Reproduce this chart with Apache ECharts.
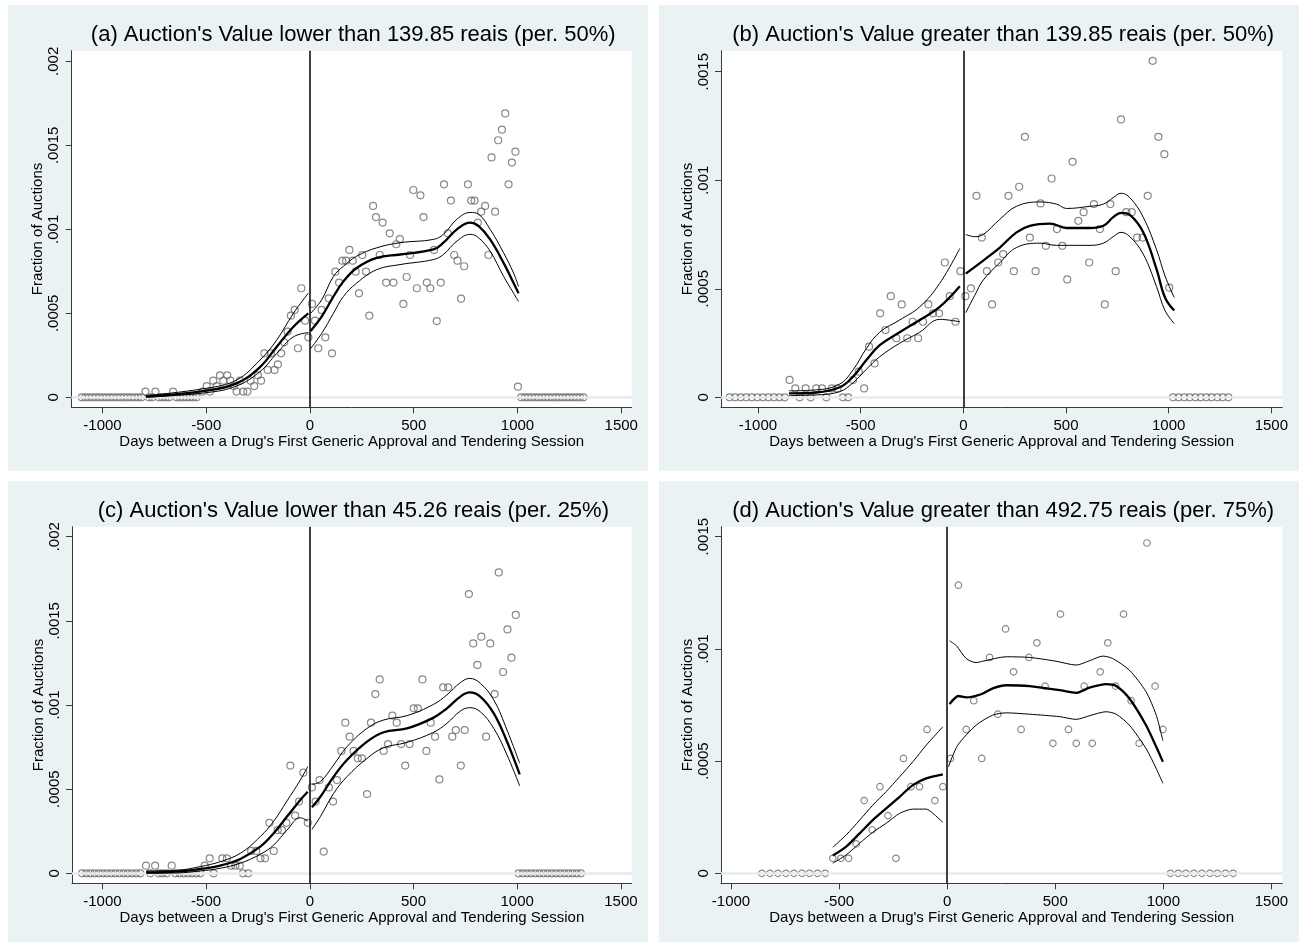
<!DOCTYPE html>
<html><head><meta charset="utf-8">
<script src="https://cdn.jsdelivr.net/npm/echarts@6/dist/echarts.min.js"></script>
<style>html,body{margin:0;padding:0;background:#fff}#c{width:1299px;height:942px}</style>
</head><body><div id="c"></div>
<script>
// ---------- titles & tick labels ----------
const titles = [
  "(a) Auction's Value lower than 139.85 reais (per. 50%)",
  "(b) Auction's Value greater than 139.85 reais (per. 50%)",
  "(c) Auction's Value lower than 45.26 reais (per. 25%)",
  "(d) Auction's Value greater than 492.75 reais (per. 75%)"
];
const xName = "Days between a Drug's First Generic Approval and Tendering Session";
const yName = "Fraction of Auctions";
const xTicks = [-1000, -500, 0, 500, 1000, 1500];
const xTickLabels = ["-1000", "-500", "0", "500", "1000", "1500"];
const yTicks20 = [0, 0.0005, 0.001, 0.0015, 0.002];
const yTickLabels20 = ["0", ".0005", ".001", ".0015", ".002"];
const yTicks15 = [0, 0.0005, 0.001, 0.0015];
const yTickLabels15 = ["0", ".0005", ".001", ".0015"];

// ---------- panel (a) ----------
const aScatter = [
[-1100,0],[-1083,0],[-1066,0],[-1049,0],[-1032,0],[-1015,0],[-998,0],[-981,0],[-964,0],[-947,0],[-930,0],[-913,0],[-896,0],[-879,0],[-862,0],[-845,0],[-828,0],[-812,0],
[-793,0.000034],[-776,0],[-760,0],[-745,0.000034],[-728,0],[-712,0],[-695,0],[-679,0],[-660,0.000034],[-643,0],[-627,0],[-611,0],[-595,0],[-579,0],[-563,0],[-547,0],
[-518,0.000034],[-498,0.000067],[-482,0.000034],[-466,0.000099],[-450,0.000067],[-434,0.000131],[-418,0.000099],[-399,0.000131],[-384,0.000099],[-367,0.000067],[-354,0.000034],[-338,0.000099],[-322,0.000034],[-302,0.000034],[-286,0.000099],[-269,0.000067],[-251,0.000131],[-236,0.000099],[-220,0.000262],[-204,0.000163],[-188,0.000262],[-171,0.000163],[-155,0.000196],[-139,0.000262],[-124,0.000327],[-108,0.000391],[-92,0.000486],[-74,0.00052],[-58,0.000292],[-42,0.000649],[-24,0.000456],[-8,0.000357],
[10,0.000556],[24,0.000456],[40,0.000292],[56,0.00052],[74,0.000357],[90,0.000589],[106,0.000262],[122,0.000748],[140,0.000683],[156,0.000813],[174,0.000813],[190,0.000877],[206,0.000813],[220,0.000748],[236,0.000619],[252,0.000847],[270,0.000748],[286,0.000486],[304,0.001139],[318,0.001073],[336,0.000847],[350,0.00104],[367,0.000683],[384,0.000976],[402,0.000683],[416,0.000911],[433,0.000942],[450,0.000556],[466,0.000716],[482,0.000847],[498,0.001234],[515,0.000649],[532,0.001202],[547,0.001073],[563,0.000683],[580,0.000649],[598,0.000877],[611,0.000454],[630,0.000683],[646,0.001268],[664,0.000976],[679,0.001171],[695,0.000847],[711,0.000813],[728,0.000587],[743,0.00078],[761,0.001268],[777,0.001171],[793,0.001171],[809,0.00104],[825,0.001105],[844,0.001139],[860,0.000847],[875,0.001428],[892,0.001105],[907,0.00153],[925,0.001593],[941,0.00169],[957,0.001268],[973,0.001397],[990,0.001462],[1002,0.0000635],
[1018,0],[1035,0],[1051,0],[1068,0],[1085,0],[1101,0],[1118,0],[1135,0],[1151,0],[1168,0],[1185,0],[1201,0],[1218,0],[1235,0],[1251,0],[1268,0],[1285,0],[1301,0],[1318,0]
];
const aNegMid = [[-791,0.000004],[-498,0.00004],[-354,0.000083],[-241,0.00018],[-161,0.0003],[-80,0.00042],[-8,0.0005]];
const aNegUp  = [[-791,0.00001],[-498,0.000054],[-354,0.000103],[-241,0.000222],[-161,0.00034],[-80,0.0005],[-8,0.00062]];
const aNegLo  = [[-791,0],[-498,0.000028],[-354,0.000067],[-241,0.000153],[-161,0.00026],[-80,0.00036],[-8,0.000385]];
const aPosMid = [[3,0.000395],[56,0.00048],[113,0.0006],[161,0.00069],[225,0.00077],[322,0.00083],[434,0.00085],[595,0.00088],[643,0.00092],[708,0.001],[772,0.00104],[812,0.00102],[868,0.00094],[933,0.0008],[981,0.00068],[1005,0.00062]];
const aPosUp  = [[3,0.0005],[56,0.00058],[113,0.00072],[161,0.00078],[225,0.00084],[322,0.00089],[434,0.00092],[595,0.00094],[643,0.00097],[708,0.00106],[772,0.0011],[812,0.00109],[868,0.001],[933,0.00086],[981,0.00074],[1005,0.00066]];
const aPosLo  = [[3,0.00029],[56,0.00038],[113,0.0005],[161,0.0006],[225,0.00068],[322,0.00076],[434,0.00079],[595,0.00082],[643,0.00085],[708,0.00093],[772,0.00097],[812,0.00095],[868,0.00087],[933,0.00072],[981,0.00062],[1005,0.00057]];

// ---------- panel (b) ----------
const bScatter = [
[-1138,0],[-1111,0],[-1084,0],[-1057,0],[-1030,0],[-1003,0],[-976,0],[-949,0],[-922,0],[-896,0],[-870,0],
[-846,0.00008],[-818,0.000041],[-797,0],[-768,0.000041],[-743,0],[-716,0.000041],[-688,0.000041],[-667,0],[-640,0.000041],[-613,0.000041],[-586,0],[-561,0],[-537,0.00008],[-509,0.000118],[-483,0.000041],[-459,0.000233],[-432,0.000156],[-405,0.000387],[-379,0.00031],[-353,0.000466],[-326,0.000272],[-300,0.000428],[-273,0.000272],[-247,0.000348],[-220,0.000272],[-196,0.000348],[-170,0.000428],[-147,0.000387],[-118,0.000387],[-90,0.000621],[-66,0.000466],[-38,0.000348],[-14,0.000581],
[10,0.000466],[37,0.000502],[64,0.000928],[90,0.000736],[115,0.000581],[140,0.000428],[170,0.000621],[194,0.00066],[220,0.000928],[246,0.000581],[272,0.00097],[300,0.0012],[324,0.000736],[352,0.000581],[376,0.000893],[402,0.000698],[430,0.001008],[456,0.000775],[482,0.000698],[506,0.000543],[532,0.001085],[560,0.000813],[586,0.000853],[613,0.000621],[636,0.00089],[665,0.000775],[689,0.000428],[716,0.00089],[742,0.000581],[768,0.00128],[794,0.000853],[820,0.000853],[846,0.000736],[873,0.000736],[898,0.000928],[922,0.00155],[950,0.0012],[979,0.00112],[1003,0.000505],
[1022,0],[1048,0],[1076,0],[1102,0],[1130,0],[1156,0],[1183,0],[1209,0],[1237,0],[1263,0],[1291,0]
];
const bNegMid = [[-849,0.000018],[-716,0.000022],[-602,0.000046],[-537,0.000095],[-472,0.000172],[-407,0.00024],[-310,0.0003],[-212,0.000356],[-115,0.000417],[-17,0.000512]];
const bNegUp  = [[-849,0.00003],[-716,0.000034],[-602,0.000061],[-537,0.000126],[-472,0.000225],[-407,0.0003],[-310,0.000356],[-212,0.000417],[-115,0.000525],[-17,0.000686]];
const bNegLo  = [[-849,0.000008],[-716,0.000011],[-602,0.000026],[-537,0.000067],[-472,0.000129],[-407,0.000187],[-310,0.000249],[-212,0.0003],[-115,0.000359],[-17,0.000348]];
const bPosMid = [[12,0.00057],[97,0.00063],[178,0.00069],[259,0.00076],[324,0.00079],[422,0.0008],[503,0.00078],[617,0.00078],[682,0.00079],[730,0.00083],[768,0.00085],[811,0.00084],[876,0.00076],[941,0.00059],[982,0.00046],[1027,0.0004]];
const bPosUp  = [[12,0.00075],[56,0.00074],[97,0.00075],[178,0.00082],[259,0.00088],[373,0.0009],[454,0.00089],[503,0.00087],[617,0.00088],[682,0.00089],[730,0.00092],[768,0.00094],[811,0.00092],[876,0.00083],[941,0.00068],[982,0.00056],[1027,0.00046]];
const bPosLo  = [[12,0.00039],[56,0.00047],[97,0.00054],[178,0.00062],[259,0.00069],[373,0.00071],[454,0.0007],[617,0.0007],[682,0.00071],[730,0.00074],[768,0.00076],[811,0.00074],[876,0.00066],[941,0.00051],[982,0.0004],[1027,0.00034]];

// ---------- panel (c) ----------
const cScatter = [
[-1098,0],[-1078,0],[-1058,0],[-1038,0],[-1018,0],[-998,0],[-978,0],[-958,0],[-938,0],[-918,0],[-898,0],[-878,0],[-858,0],[-838,0],[-818,0],
[-790,0.0000455],[-769,0],[-746,0.0000455],[-728,0],[-710,0],[-690,0],[-666,0.0000455],[-648,0],[-628,0],[-608,0],[-588,0],[-568,0],[-548,0],[-528,0],[-507,0.0000455],[-483,0.000089],[-464,0],[-422,0.000089],[-400,0.000089],[-380,0.0000455],[-359,0.0000455],[-338,0.0000455],[-322,0],[-297,0],[-283,0.000133],[-258,0.000133],[-238,0.000089],[-216,0.000089],[-195,0.0003],[-174,0.000133],[-155,0.000257],[-134,0.000257],[-113,0.0003],[-94,0.00064],[-71,0.000343],[-52,0.000426],[-31,0.000598],[-10,0.0003],
[10,0.00051],[28,0.000426],[47,0.000554],[67,0.000129],[92,0.00051],[112,0.000426],[131,0.000554],[152,0.000727],[171,0.000895],[192,0.000812],[211,0.000727],[231,0.000683],[251,0.000683],[276,0.000471],[295,0.000895],[316,0.001065],[337,0.001152],[356,0.000727],[377,0.000768],[398,0.000937],[419,0.000895],[440,0.000768],[460,0.00064],[481,0.000768],[501,0.00098],[521,0.00098],[543,0.001152],[562,0.000727],[583,0.000895],[604,0.000812],[625,0.000558],[643,0.001105],[667,0.001105],[687,0.000812],[704,0.000851],[728,0.00064],[747,0.000851],[767,0.001659],[788,0.001366],[808,0.001238],[827,0.001406],[850,0.000812],[870,0.001366],[891,0.001065],[911,0.001788],[932,0.001196],[953,0.001449],[972,0.001281],[993,0.001535],
[1007,0],[1027,0],[1047,0],[1067,0],[1087,0],[1107,0],[1127,0],[1147,0],[1167,0],[1187,0],[1207,0],[1227,0],[1247,0],[1267,0],[1287,0],[1307,0]
];
const cNegMid = [[-789,0.000006],[-641,0.00001],[-528,0.000026],[-432,0.000046],[-335,0.000085],[-239,0.000158],[-174,0.000238],[-110,0.000337],[-46,0.000436],[-10,0.000485]];
const cNegUp  = [[-789,0.000014],[-641,0.000018],[-528,0.00004],[-432,0.000069],[-335,0.000119],[-239,0.000218],[-174,0.00031],[-110,0.00043],[-46,0.000554],[-10,0.000634]];
const cNegLo  = [[-789,0],[-641,0.000002],[-528,0.000014],[-432,0.00003],[-335,0.00006],[-239,0.000113],[-174,0.000168],[-110,0.000257],[-46,0.00033],[-10,0.00031]];
const cPosMid = [[10,0.000392],[51,0.000455],[115,0.000574],[179,0.000673],[276,0.000782],[356,0.000838],[469,0.000861],[597,0.000925],[661,0.00098],[726,0.00105],[771,0.001075],[822,0.00105],[887,0.00095],[951,0.000782],[1012,0.000588]];
const cPosUp  = [[10,0.000529],[51,0.000545],[115,0.000644],[179,0.000752],[276,0.000861],[356,0.000911],[469,0.000937],[597,0.001004],[661,0.00106],[726,0.001133],[771,0.001158],[822,0.001129],[887,0.00103],[951,0.000851],[1012,0.000653]];
const cPosLo  = [[10,0.000261],[51,0.000337],[115,0.000475],[179,0.000574],[276,0.000683],[356,0.000746],[469,0.000778],[597,0.000838],[661,0.000891],[726,0.000964],[771,0.000984],[822,0.00096],[887,0.000861],[951,0.000703],[1012,0.000519]];

// ---------- panel (d) ----------
const dScatter = [
[-857,0],[-820,0],[-783,0],[-746,0],[-709,0],[-672,0],[-637,0],[-600,0],[-564,0],
[-529,0.0000668],[-492,0.0000668],[-456,0.0000668],[-421,0.000131],[-384,0.000324],[-347,0.000194],[-311,0.000386],[-274,0.000257],[-237,0.0000668],[-202,0.000512],[-168,0.000386],[-128,0.000386],[-93,0.000641],[-57,0.000324],[-20,0.000386],
[15,0.000512],[52,0.001284],[88,0.000641],[123,0.000769],[160,0.000512],[196,0.000962],[234,0.000709],[270,0.001089],[307,0.000898],[342,0.000641],[378,0.000962],[415,0.001027],[453,0.000834],[489,0.000579],[524,0.001155],[561,0.000641],[597,0.000579],[634,0.000834],[671,0.000579],[708,0.000898],[743,0.001027],[779,0.000834],[816,0.001155],[851,0.000769],[888,0.000579],[924,0.001472],[962,0.000834],[998,0.000641],
[1033,0],[1069,0],[1104,0],[1141,0],[1178,0],[1215,0],[1250,0],[1287,0],[1323,0]
];
const dNegMid = [[-529,0.000079],[-467,0.000119],[-405,0.000178],[-344,0.000237],[-282,0.000289],[-220,0.000341],[-159,0.000393],[-97,0.000423],[-20,0.000441]];
const dNegUp  = [[-529,0.000116],[-467,0.000171],[-405,0.000237],[-344,0.000304],[-282,0.000364],[-220,0.00043],[-159,0.000497],[-97,0.000571],[-20,0.000653]];
const dNegLo  = [[-529,0.000045],[-467,0.000082],[-405,0.000134],[-344,0.000183],[-282,0.000223],[-220,0.000267],[-159,0.000286],[-97,0.000286],[-66,0.000267],[-20,0.000227]];
const dPosMid = [[11,0.000754],[52,0.00079],[88,0.000784],[157,0.000798],[211,0.000824],[273,0.000838],[381,0.000834],[520,0.000816],[597,0.000804],[658,0.000827],[735,0.000843],[782,0.000835],[843,0.000779],[920,0.00066],[967,0.000564],[998,0.000497]];
const dPosUp  = [[11,0.001036],[42,0.001015],[88,0.000957],[134,0.000939],[165,0.000945],[273,0.000965],[381,0.000962],[504,0.000945],[597,0.000928],[658,0.000947],[720,0.000968],[766,0.000957],[843,0.000905],[920,0.000809],[967,0.000705],[998,0.000591]];
const dPosLo  = [[6,0.000475],[49,0.000571],[134,0.00066],[211,0.000705],[273,0.000715],[381,0.000709],[520,0.000698],[597,0.000686],[658,0.000702],[735,0.00072],[782,0.000709],[843,0.00066],[920,0.000556],[967,0.000467],[998,0.000401]];

// ---------- layout (styles) ----------
const FONT = '"Liberation Sans", Arial, Helvetica, sans-serif';
const panels = [
  {bg:[8,5,640,466],  grid:{left:71.7, top:50.7, width:560,   height:356.6}, x:[-1148.6,1550.5], y:[-0.0000595,0.0020631], yt:yTicks20, yl:yTickLabels20,
   sc:aScatter, neg:[aNegMid,aNegUp,aNegLo], pos:[aPosMid,aPosUp,aPosLo], ty:35, sym:7, sm:0.4},
  {bg:[659,5,640,466], grid:{left:721, top:50.7, width:561.3, height:356.6}, x:[-1180,1553.4], y:[-0.0000461,0.0015968], yt:yTicks15, yl:yTickLabels15,
   sc:bScatter, neg:[bNegMid,bNegUp,bNegLo], pos:[bPosMid,bPosUp,bPosLo], ty:35, sym:7, sm:0.4},
  {bg:[8,481,640,461], grid:{left:72, top:526.7, width:559.7, height:356.6}, x:[-1146.8,1552.1], y:[-0.0000594,0.0020594], yt:yTicks20, yl:yTickLabels20,
   sc:cScatter, neg:[cNegMid,cNegUp,cNegLo], pos:[cPosMid,cPosUp,cPosLo], ty:511, sym:7, sm:0.4},
  {bg:[659,481,640,461], grid:{left:721, top:526.7, width:561.3, height:356.6}, x:[-1046.3,1550.3], y:[-0.0000446,0.0015446], yt:yTicks15, yl:yTickLabels15,
   sc:dScatter, neg:[dNegMid,dNegUp,dNegLo], pos:[dPosMid,dPosUp,dPosLo], ty:511, sym:6.5, sm:0.25}
];

function nearestLabel(v, ticks, labels) {
  let bi = 0, bd = Infinity;
  ticks.forEach((t, i) => { const d = Math.abs(t - v); if (d < bd) { bd = d; bi = i; } });
  return labels[bi];
}

const grids = [], xAxes = [], yAxes = [], series = [], graphics = [];
panels.forEach((p, i) => {
  graphics.push({type:'rect', z:-10, silent:true, shape:{x:p.bg[0], y:p.bg[1], width:p.bg[2], height:p.bg[3]}, style:{fill:'#eaf2f3'}});
  grids.push(Object.assign({show:true, backgroundColor:'#ffffff', borderWidth:0, containLabel:false}, p.grid));
  graphics.push({type:'text', z:5, silent:true, x:p.grid.left + p.grid.width/2 + 1.5, y:p.ty,
    style:{text:titles[i], fill:'#000', font:'22px ' + FONT, align:'center', verticalAlign:'middle', textAlign:'center', textVerticalAlign:'middle'}});
  xAxes.push({
    type:'value', gridIndex:i, min:p.x[0], max:p.x[1],
    axisLine:{show:true, onZero:false, lineStyle:{color:'#3a3a3a', width:1}},
    axisTick:{show:true, length:6, inside:false, customValues:xTicks, lineStyle:{color:'#3a3a3a', width:1}},
    axisLabel:{show:true, customValues:xTicks, margin:11, fontSize:15, fontFamily:FONT, color:'#000',
      formatter:(v) => nearestLabel(v, xTicks, xTickLabels)},
    splitLine:{show:false},
    name:xName, nameLocation:'middle', nameGap:27, nameTextStyle:{fontSize:15, fontFamily:FONT, color:'#000'}
  });
  yAxes.push({
    type:'value', gridIndex:i, min:p.y[0], max:p.y[1],
    axisLine:{show:true, onZero:false, lineStyle:{color:'#3a3a3a', width:1}},
    axisTick:{show:true, length:6, inside:false, customValues:p.yt, lineStyle:{color:'#3a3a3a', width:1}},
    axisLabel:{show:true, customValues:p.yt, rotate:90, margin:10, fontSize:15, fontFamily:FONT, color:'#000',
      formatter:(v) => nearestLabel(v, p.yt, p.yl)},
    splitLine:{show:false},
    name:yName, nameLocation:'middle', nameGap:26, nameRotate:90, nameTextStyle:{fontSize:15, fontFamily:FONT, color:'#000'}
  });
  // horizontal grid lines
  series.push({type:'line', xAxisIndex:i, yAxisIndex:i, data:[[0,0]], showSymbol:false, lineStyle:{width:0}, z:1, silent:true,
    markLine:{silent:true, symbol:['none','none'], label:{show:false}, animation:false,
      lineStyle:{color:'#e4ecee', width:1.4, type:'solid'}, data:p.yt.map(t => ({yAxis:t}))}});
  // scatter
  series.push({type:'scatter', xAxisIndex:i, yAxisIndex:i, data:p.sc, symbol:'circle', symbolSize:p.sym, z:3,
    itemStyle:{color:'rgba(0,0,0,0)', borderColor:'#6a6a6a', borderWidth:1.2}});
  // vertical line at 0
  series.push({type:'line', xAxisIndex:i, yAxisIndex:i, data:[[0,0]], showSymbol:false, lineStyle:{width:0}, z:4, silent:true,
    markLine:{silent:true, symbol:['none','none'], label:{show:false}, animation:false,
      lineStyle:{color:'#000', width:1.5, type:'solid'}, data:[{xAxis:0}]}});
  // fitted lines
  [p.neg, p.pos].forEach(side => {
    side.forEach((d, k) => {
      series.push({type:'line', xAxisIndex:i, yAxisIndex:i, data:d, smooth:p.sm, showSymbol:false, symbol:'none', z:5,
        lineStyle:{color:'#000', width: k === 0 ? 2.3 : 1.0}});
    });
  });
});

const chart = echarts.init(document.getElementById('c'), null, {renderer:'canvas'});
chart.setOption({
  animation:false,
  backgroundColor:'#ffffff',
  textStyle:{fontFamily:FONT},
  grid:grids, xAxis:xAxes, yAxis:yAxes, series:series, graphic:graphics
});
</script></body></html>
